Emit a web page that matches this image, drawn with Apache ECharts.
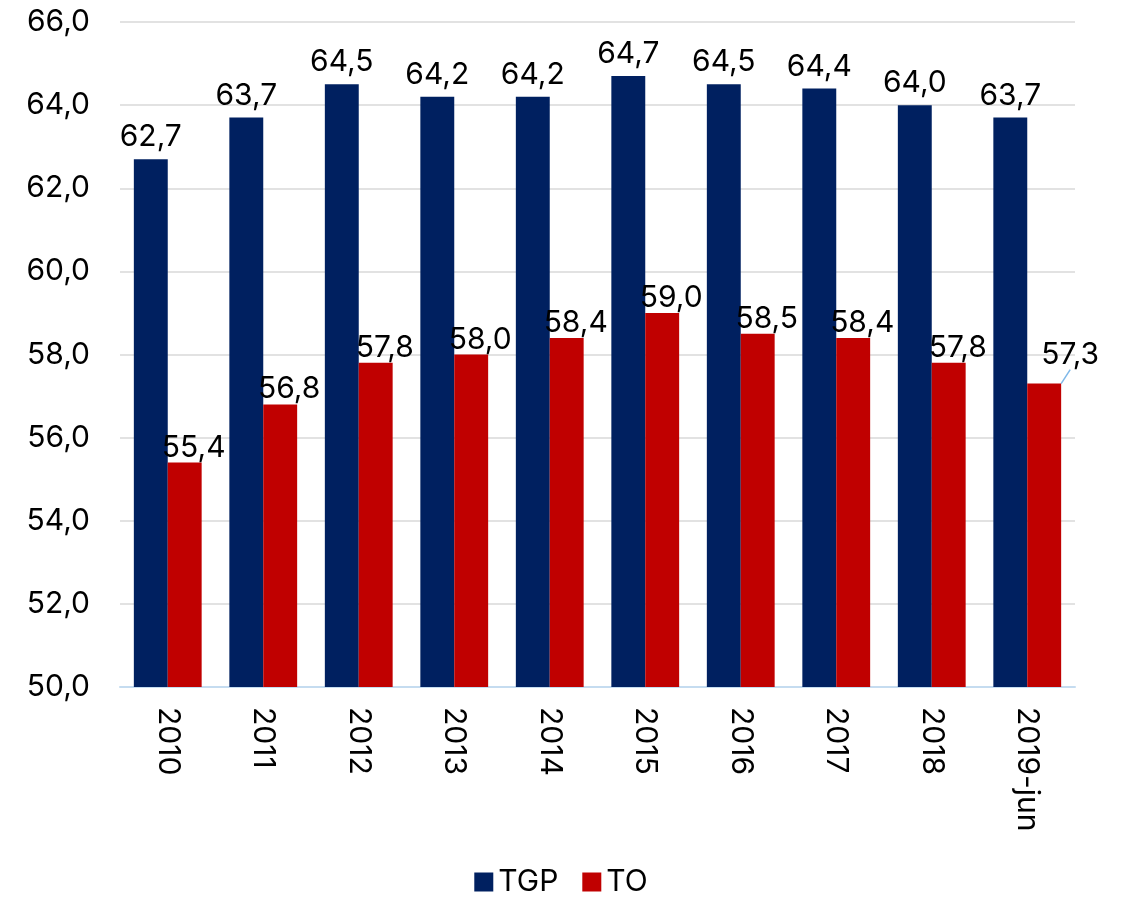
<!DOCTYPE html>
<html><head><meta charset="utf-8">
<script src="https://cdn.jsdelivr.net/npm/echarts@6/dist/echarts.min.js"></script>
<style>html,body{margin:0;padding:0;background:#fff}#c{width:1122px;height:900px}</style>
</head><body><div id="c"></div>
<script>
const categories = ['2010','2011','2012','2013','2014','2015','2016','2017','2018','2019-jun'];
const tgp = [62.7, 63.7, 64.5, 64.2, 64.2, 64.7, 64.5, 64.4, 64.0, 63.7];
const to = [55.4, 56.8, 57.8, 58.0, 58.4, 59.0, 58.5, 58.4, 57.8, 57.3];
const yTicks = {min: 50, max: 66, interval: 2};

const fmt = v => v.toFixed(1).replace('.', ',');
const FONT = 'Inter';
const FS = 30;
const last = categories.length - 1;
const toData = to.map((v, i) => i === last ? {value: v, labelLine: {show: true}} : {value: v});
const chart = echarts.init(document.getElementById('c'));
chart.setOption({
  animation: false,
  textStyle: {fontFamily: FONT},
  grid: {left: 120, right: 47, top: 22, bottom: 213},
  legend: {
    bottom: -2, left: 'center', itemWidth: 19, itemHeight: 19, itemGap: 24,
    icon: 'rect',
    textStyle: {fontSize: FS, color: '#000', fontFamily: FONT},
    data: ['TGP', 'TO']
  },
  xAxis: {
    type: 'category', data: categories,
    axisLine: {lineStyle: {color: '#c5dcf0', width: 2}},
    axisTick: {show: false},
    axisLabel: {rotate: -90, fontSize: FS, color: '#000', margin: 20, fontFamily: FONT}
  },
  yAxis: {
    type: 'value', min: yTicks.min, max: yTicks.max, interval: yTicks.interval,
    axisLine: {show: false}, axisTick: {show: false},
    splitLine: {lineStyle: {color: '#d9d9d9', width: 1.5}},
    axisLabel: {fontSize: FS, color: '#000', margin: 30, formatter: v => fmt(v), fontFamily: FONT}
  },
  series: [
    {
      name: 'TGP', type: 'bar', data: tgp, barGap: '0%', barCategoryGap: '29%',
      itemStyle: {color: '#002060'},
      label: {show: true, position: 'top', distance: 7, fontSize: FS, color: '#000', formatter: p => fmt(p.value), fontFamily: FONT}
    },
    {
      name: 'TO', type: 'bar', data: toData, barGap: '0%', barCategoryGap: '29%',
      itemStyle: {color: '#c00000'},
      label: {show: true, position: 'top', distance: 0, fontSize: FS, color: '#000', formatter: p => fmt(p.value), fontFamily: FONT},
      labelLine: {show: false, lineStyle: {color: '#7fb8e8', width: 1.5}},
      labelLayout: p => p.dataIndex === last ? {dx: 26, dy: -14} : {dx: 9}
    }
  ]
});
</script></body></html>
